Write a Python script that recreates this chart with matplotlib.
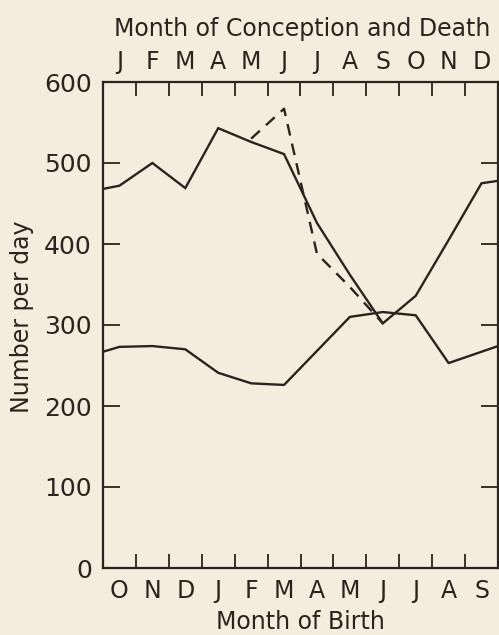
import matplotlib
matplotlib.use("Agg")
import matplotlib.pyplot as plt

# month positions: 0..12 across the frame, points at month centres
top_months = ["J", "F", "M", "A", "M", "J", "J", "A", "S", "O", "N", "D"]
bottom_months = ["O", "N", "D", "J", "F", "M", "A", "M", "J", "J", "A", "S"]

# conception / death curve (upper solid)
upper_x = [0, 0.5, 1.5, 2.5, 3.5, 4.5, 5.5, 6.5, 7.5, 8.5, 9.5, 10.5, 11.5, 12]
upper_y = [468, 472, 500, 469, 543, 526, 511, 426, 362, 302, 336, 405, 475, 478]

# alternative (dashed) segment
dashed_x = [4.5, 5.5, 6.5, 7.5, 8.5]
dashed_y = [530, 567, 388, 347, 302]

# birth curve (lower solid)
lower_x = [0, 0.5, 1.5, 2.5, 3.5, 4.5, 5.5, 6.5, 7.5, 8.5, 9.5, 10.5, 11.5, 12]
lower_y = [267, 273, 274, 270, 241, 228, 226, 268, 310, 316, 312, 253, 267, 274]

yticks = [0, 100, 200, 300, 400, 500, 600]

bg = "#f4eddd"
ink = "#2a2420"
plt.rcParams['font.family'] = 'DejaVu Sans'

fig = plt.figure(figsize=(4.99, 6.35), dpi=100, facecolor=bg)
ax = fig.add_axes([103 / 499, 67 / 635, 395 / 499, 486 / 635], facecolor=bg)

ax.plot(upper_x, upper_y, color=ink, lw=1.7, solid_joinstyle='miter')
ax.plot(dashed_x, dashed_y, color=ink, lw=1.7, dashes=(5, 3.5))
ax.plot(lower_x, lower_y, color=ink, lw=1.7)

ax.set_xlim(0, 12)
ax.set_ylim(0, 600)
for s in ax.spines.values():
    s.set_color(ink)
    s.set_linewidth(1.6)

# y axis: ticks both sides, pointing in
ax.set_yticks(yticks)
ax.tick_params(axis='y', direction='in', length=12, width=1.3, color=ink,
               right=True, labelsize=18, labelcolor=ink, pad=8)

# bottom axis: boundary ticks, labels at month centres
ax.set_xticks(range(1, 12))
ax.set_xticks([i + 0.5 for i in range(12)], minor=True)
ax.set_xticklabels([])
ax.set_xticklabels(bottom_months, minor=True)
ax.tick_params(axis='x', which='major', direction='in', length=10, width=1.3, color=ink)
ax.tick_params(axis='x', which='minor', length=0, labelsize=17, labelcolor=ink, pad=8)

# top axis
top = ax.twiny()
top.set_xlim(0, 12)
top.set_xticks(range(1, 12))
top.set_xticks([i + 0.5 for i in range(12)], minor=True)
top.set_xticklabels([])
top.set_xticklabels(top_months, minor=True)
top.tick_params(axis='x', which='major', direction='in', length=10, width=1.3, color=ink)
top.tick_params(axis='x', which='minor', length=0, labelsize=17, labelcolor=ink, pad=6)
for s in top.spines.values():
    s.set_visible(False)

fig.text(302 / 499, 1 - 29 / 635, "Month of Conception and Death", ha='center', va='center',
         fontsize=17, color=ink)
fig.text(300 / 499, 1 - 622 / 635, "Month of Birth", ha='center', va='center',
         fontsize=17, color=ink)
fig.text(22 / 499, 1 - 317 / 635, "Number per day", ha='center', va='center',
         rotation=90, fontsize=17, color=ink)

fig.savefig("out.png", dpi=100, facecolor=bg)
